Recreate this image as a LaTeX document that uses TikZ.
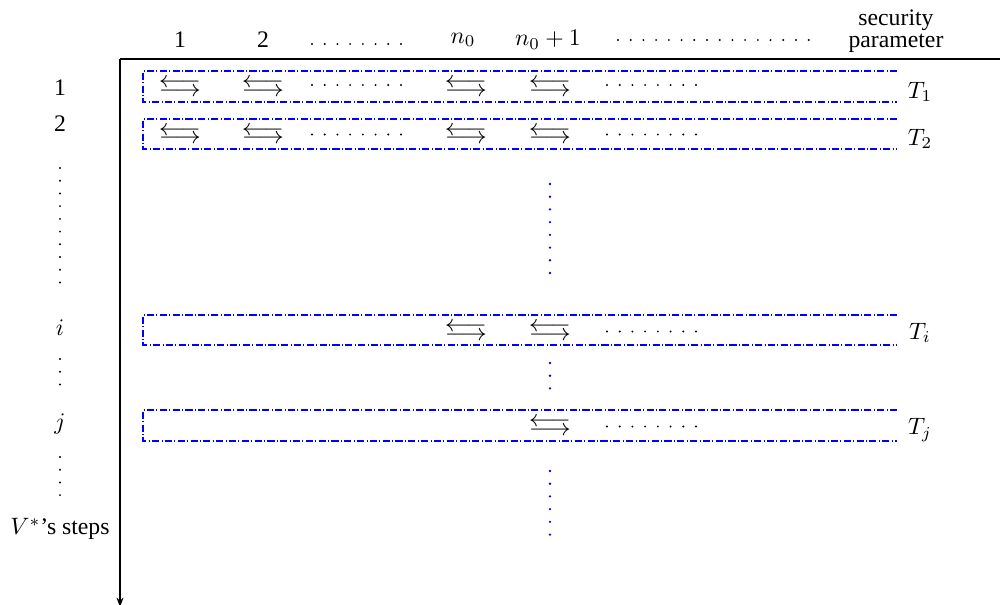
\documentclass[tikz,border=0pt]{standalone}
\usepackage{fontspec}
\setmainfont{Liberation Serif}
\usetikzlibrary{arrows.meta}
\newcommand{\lrar}{\scalebox{1.1}[1]{\begin{tabular}{@{}c@{}}$\longleftarrow$\\[-8.4pt]$\longrightarrow$\end{tabular}}}
\begin{document}
\begin{tikzpicture}[x=0.4216pt,y=-0.4216pt,
  lbl/.style={inner sep=0pt, anchor=center},
  axisline/.style={line width=0.5pt, -{Stealth[length=4pt,width=3pt]}},
  rowbox/.style={draw=blue, densely dash dot, line width=0.45pt},
  bdots/.style={line width=0.9pt, line cap=round, dash pattern=on 0pt off 5.36pt},
  vdots/.style={bdots, blue, line width=1.1pt},
  arr/.style={inner sep=0pt, anchor=center},
]
\useasboundingbox (0,0) rectangle (1000,604);
% axes
\coordinate (O) at (120,59);
\coordinate (XE) at (1016,59);
\coordinate (YE) at (120,607);
\draw[axisline] (O) -- (XE);
\draw[axisline] (O) -- (YE);
% header
\node[lbl] (h1) at (180,40) {1};
\node[lbl] (h2) at (263,40) {2};
\node[lbl] (hn) at (463,40) {$n_0$};
\node[lbl] (hn1) at (548,40) {$n_0+1$};
\node[lbl, align=center] (hsp) at (896,31) {security\\[-2.6pt]parameter};
\draw[bdots] (312,44) -- (402,44);
\draw[bdots] (618,40) -- (809.5,40);
% row labels
\node[lbl] (r1) at (60,88) {1};
\node[lbl] (r2) at (60,124) {2};
\node[lbl] (ri) at (60,328) {$i$};
\node[lbl] (rj) at (60,424) {$j$};
\node[lbl] (rv) at (60,529) {$V^*$'s steps};
\draw[bdots] (60,168) -- (60,283.5);
\draw[bdots] (60,359) -- (60,386);
\draw[bdots] (60,457) -- (60,495.5);
% middle blue dots
\draw[vdots] (550,184) -- (550,273.5);
\draw[vdots] (550,363) -- (550,389.5);
\draw[vdots] (550,471) -- (550,535);
% boxes
\draw[rowbox] (897,71) -- (143,71) -- (143,102) -- (897,102);
\draw[rowbox] (897,119) -- (143,119) -- (143,149) -- (897,149);
\draw[rowbox] (897,315) -- (143,315) -- (143,345) -- (897,345);
\draw[rowbox] (897,410) -- (143,410) -- (143,441) -- (897,441);
% row 1
\node[arr] (a11) at (180,86.5) {\lrar};
\node[arr] (a12) at (263,86.5) {\lrar};
\node[arr] (a13) at (466,86.5) {\lrar};
\node[arr] (a14) at (550,86.5) {\lrar};
\draw[bdots] (312,85) -- (402,85);
\draw[bdots] (607,85) -- (697,85);
\node[lbl] (t1) at (920,92) {$T_1$};
% row 2
\node[arr] (a21) at (180,134) {\lrar};
\node[arr] (a22) at (263,134) {\lrar};
\node[arr] (a23) at (466,134) {\lrar};
\node[arr] (a24) at (550,134) {\lrar};
\draw[bdots] (312,134.5) -- (402,134.5);
\draw[bdots] (607,134.5) -- (697,134.5);
\node[lbl] (t2) at (920,139) {$T_2$};
% row i
\node[arr] (ai3) at (466,330.5) {\lrar};
\node[arr] (ai4) at (550,330.5) {\lrar};
\draw[bdots] (607,331.5) -- (697,331.5);
\node[lbl] (ti) at (920,333) {$T_i$};
% row j
\node[arr] (aj4) at (550,425.5) {\lrar};
\draw[bdots] (607,426.5) -- (697,426.5);
\node[lbl] (tj) at (920,430) {$T_j$};
\end{tikzpicture}
\end{document}
